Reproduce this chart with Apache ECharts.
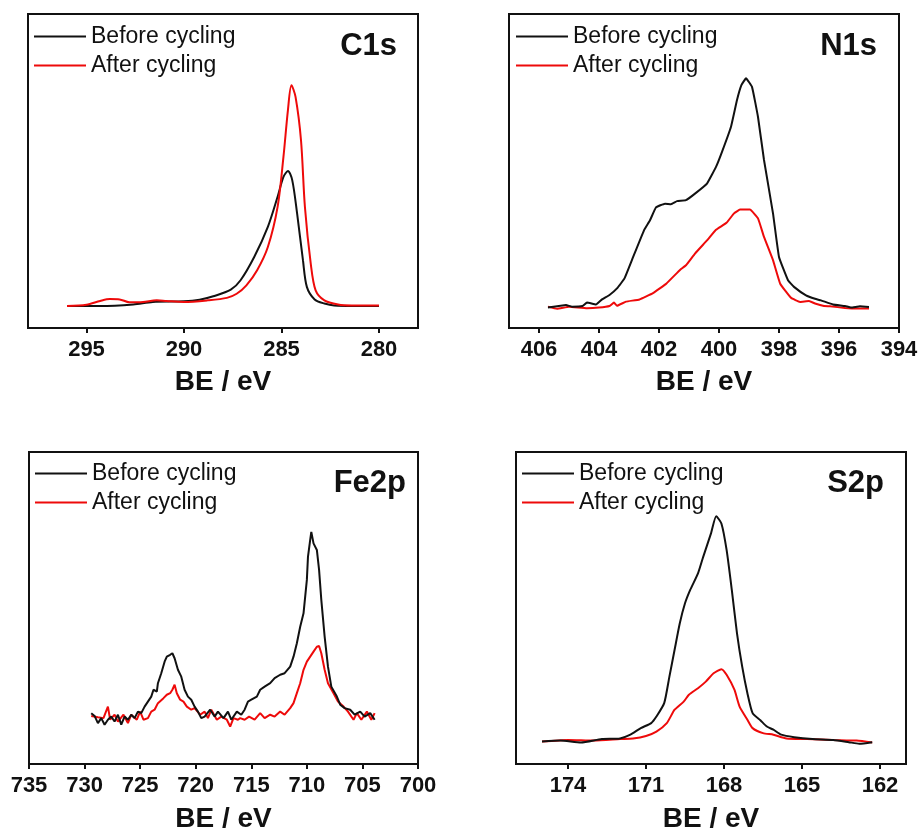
<!DOCTYPE html>
<html>
<head>
<meta charset="utf-8">
<script src="https://cdn.jsdelivr.net/npm/echarts@6/dist/echarts.min.js"></script>
<style>
  html, body { margin: 0; padding: 0; background: #fff; overflow: hidden; }
  #chart { width: 919px; height: 832px; }
</style>
</head>
<body>
<div id="chart"></div>
<script>
// XPS spectra, [BE (eV), intensity a.u.]
const c1sBefore = [[296,7.0],[294.3,7.0],[292.6,7.5],[291.6,8.3],[290.0,8.5],[289.2,9.0],[288.5,10.1],[287.6,12.2],[287.1,15.2],[286.4,22.6],[285.7,32.2],[285.2,41.8],[284.9,48.1],[284.67,50.0],[284.45,47.1],[284.2,36.5],[283.9,21.6],[283.7,13.1],[283.3,9.1],[282.8,7.8],[282.3,7.2],[280.0,7.0]];
const c1sAfter = [[296,7.0],[295.0,7.4],[294.3,8.6],[293.8,9.2],[293.3,9.1],[292.8,8.2],[292.1,8.3],[291.4,8.8],[290.9,8.6],[290.0,8.3],[288.8,8.8],[287.8,9.6],[287.3,10.9],[286.8,13.6],[286.25,18.4],[285.7,25.8],[285.2,38.6],[284.9,54.5],[284.67,69.4],[284.49,77.3],[284.28,73.6],[284.0,59.8],[283.8,38.6],[283.5,20.5],[283.25,12.0],[282.8,8.8],[282.1,7.5],[281.4,7.2],[280.0,7.2]];

const n1sBefore = [[405.7,6.5],[405.1,7.3],[404.9,6.8],[404.55,7.0],[404.4,8.1],[404.1,7.5],[403.9,9.1],[403.65,10.5],[403.4,12.6],[403.15,15.8],[402.9,21.7],[402.5,31.1],[402.3,34.3],[402.1,38.4],[401.8,39.6],[401.6,39.4],[401.4,40.4],[401.1,40.7],[400.8,42.8],[400.4,46.0],[400.1,51.3],[399.9,56.1],[399.6,64.1],[399.4,72.6],[399.25,77.4],[399.1,79.5],[398.9,76.8],[398.7,67.2],[398.5,53.5],[398.2,36.5],[398.0,22.6],[397.7,15.2],[397.5,13.1],[397.1,10.4],[396.8,9.3],[396.6,8.8],[396.2,7.5],[395.8,7.0],[395.6,6.5],[395.3,6.9],[395.0,6.7]];
const n1sAfter = [[405.7,6.8],[405.4,6.1],[405.0,6.8],[404.4,6.3],[404.0,6.5],[403.65,7.0],[403.5,8.1],[403.4,7.1],[403.1,8.4],[402.65,9.1],[402.2,11.1],[401.75,14.2],[401.3,18.5],[401.1,20.0],[400.8,23.7],[400.4,27.9],[400.1,31.3],[399.75,33.5],[399.5,36.5],[399.3,37.7],[398.97,37.7],[398.7,34.9],[398.5,29.0],[398.2,21.6],[397.96,14.1],[397.6,9.6],[397.3,8.3],[397.0,8.6],[396.8,7.8],[396.5,7.0],[396.3,6.9],[395.8,6.4],[395.4,6.2],[395.0,6.2]];

const fe2pBefore = [[729.4,16.3],[729.1,15.4],[728.8,13.1],[728.5,14.7],[728.2,12.6],[727.9,14.2],[727.6,15.2],[727.3,13.6],[727.0,15.8],[726.7,12.6],[726.4,15.2],[726.1,14.2],[725.8,15.8],[725.5,14.7],[725.2,16.8],[724.9,16.3],[724.6,18.4],[724.3,20.0],[724.0,21.6],[723.8,23.8],[723.5,23.2],[723.4,25.9],[723.1,29.1],[722.8,32.8],[722.6,34.4],[722.3,35.0],[722.1,35.5],[721.9,33.9],[721.6,30.2],[721.3,28.0],[721.0,23.8],[720.7,21.6],[720.4,20.6],[720.1,18.4],[719.8,16.8],[719.5,14.7],[719.2,15.2],[718.7,17.4],[718.3,15.2],[718.0,16.8],[717.5,14.7],[717.1,16.8],[716.8,14.2],[716.3,16.8],[715.9,15.8],[715.6,17.4],[715.3,20.0],[715.0,20.6],[714.5,21.6],[714.2,23.8],[713.8,24.8],[713.3,25.9],[712.9,27.5],[712.4,28.6],[712.0,29.1],[711.5,31.2],[711.2,34.4],[710.9,38.7],[710.6,44.0],[710.3,48.3],[710.0,59.0],[709.9,66.4],[709.7,71.8],[709.6,74.4],[709.4,70.7],[709.1,68.6],[708.9,62.2],[708.7,52.6],[708.4,40.8],[708.1,31.2],[707.8,24.8],[707.3,21.6],[707.0,19.0],[706.6,17.9],[706.1,17.4],[705.7,15.8],[705.2,16.8],[704.8,15.2],[704.3,16.3],[703.9,14.2]];
const fe2pAfter = [[729.4,15.4],[728.8,15.0],[728.3,14.7],[727.9,18.4],[727.7,14.2],[727.3,15.8],[727.0,13.6],[726.5,15.8],[726.1,13.1],[725.8,15.8],[725.3,14.2],[725.0,16.8],[724.7,14.2],[724.3,14.7],[724.0,16.8],[723.7,17.4],[723.4,19.5],[722.9,21.1],[722.6,22.2],[722.3,22.7],[722.1,23.8],[721.9,25.4],[721.7,22.7],[721.4,20.6],[721.1,20.0],[720.8,18.4],[720.4,17.4],[720.1,17.9],[719.6,15.8],[719.2,16.8],[718.9,14.7],[718.6,17.4],[718.1,14.2],[717.7,15.2],[717.2,14.2],[716.9,12.0],[716.6,14.7],[716.2,14.2],[716.0,14.7],[715.6,14.2],[715.2,15.2],[714.7,14.2],[714.2,16.3],[713.8,14.7],[713.3,15.8],[712.9,15.2],[712.4,16.8],[712.0,15.8],[711.5,17.9],[711.2,19.5],[710.9,22.7],[710.6,25.9],[710.3,30.2],[710.0,32.8],[709.7,34.4],[709.4,36.0],[709.1,37.6],[708.9,37.8],[708.7,35.5],[708.4,30.2],[708.1,25.9],[707.6,22.7],[707.2,20.0],[706.7,18.4],[706.3,16.8],[705.8,14.2],[705.5,16.3],[705.1,14.2],[704.6,16.8],[704.2,14.2],[703.9,16.3]];

const s2pBefore = [[175.0,7.2],[174.3,7.5],[173.5,6.9],[172.7,8.0],[172.0,8.2],[171.6,9.4],[171.2,11.5],[170.8,13.1],[170.6,15.2],[170.3,19.5],[170.1,28.0],[169.9,36.6],[169.7,45.1],[169.5,51.5],[169.3,55.8],[169.0,61.1],[168.8,66.4],[168.5,73.9],[168.3,79.4],[168.1,77.1],[167.9,68.6],[167.7,55.8],[167.5,41.9],[167.3,31.2],[167.1,22.7],[166.9,16.3],[166.6,14.0],[166.35,12.0],[166.1,11.0],[165.8,9.4],[165.3,8.6],[164.6,8.0],[163.8,7.7],[163.2,7.0],[162.8,6.5],[162.3,7.0]];
const s2pAfter = [[175.0,7.2],[174.0,7.7],[173.0,7.5],[172.0,8.0],[171.5,8.2],[171.0,9.0],[170.6,10.4],[170.2,13.1],[169.9,17.4],[169.55,20.0],[169.35,22.2],[169.0,24.3],[168.7,26.4],[168.4,29.1],[168.1,30.4],[167.9,28.6],[167.6,23.8],[167.4,18.4],[167.1,14.2],[166.9,11.5],[166.5,9.9],[166.1,9.4],[165.6,8.2],[164.8,8.0],[163.8,7.7],[162.9,7.5],[162.3,6.9]];

const panelNames = ['C1s', 'N1s', 'Fe2p', 'S2p'];
const xRanges = [[278, 298], [394, 407], [700, 735], [161, 176]];
const xTicks = [[295, 290, 285, 280], [406, 404, 402, 400, 398, 396, 394], [735, 730, 725, 720, 715, 710, 705, 700], [174, 171, 168, 165, 162]];
const beforeData = [c1sBefore, n1sBefore, fe2pBefore, s2pBefore];
const afterData = [c1sAfter, n1sAfter, fe2pAfter, s2pAfter];
const seriesNames = ['Before cycling', 'After cycling'];

const FONT = '"Liberation Sans", Arial, sans-serif';
const RED = '#ee0a0a';

const grids = [
  { left: 28, top: 14, width: 390, height: 314 },
  { left: 509, top: 14, width: 390, height: 314 },
  { left: 29, top: 452, width: 389, height: 312 },
  { left: 516, top: 452, width: 390, height: 312 }
];
const legendPos = [{ left: 34, top: 25 }, { left: 516, top: 25 }, { left: 35, top: 462 }, { left: 522, top: 462 }];
const labelPos = [[397, 46], [877, 46], [406, 483], [884, 483]];
const smoothing = [0.3, 0.1, false, 0.2];

const chart = echarts.init(document.getElementById('chart'), null, { renderer: 'canvas' });

const option = {
  backgroundColor: '#fff',
  animation: false,
  grid: grids.map(g => ({ ...g, show: true, outerBoundsMode: 'none', containLabel: false, borderColor: '#111', borderWidth: 2, backgroundColor: 'transparent' })),
  xAxis: grids.map((g, i) => ({
    gridIndex: i,
    type: 'value',
    inverse: true,
    min: xRanges[i][0],
    max: xRanges[i][1],
    name: 'BE / eV',
    nameLocation: 'middle',
    nameGap: i < 2 ? 40 : 41,
    nameTextStyle: { fontFamily: FONT, fontWeight: 'bold', fontSize: 28, color: '#111' },
    axisLine: { show: true, onZero: false, lineStyle: { color: '#111', width: 2 } },
    axisTick: { show: true, inside: false, length: 5, lineStyle: { color: '#111', width: 2 }, customValues: xTicks[i] },
    axisLabel: { show: true, margin: 11, fontFamily: FONT, fontWeight: 'bold', fontSize: 22, color: '#111', customValues: xTicks[i] },
    splitLine: { show: false }
  })),
  yAxis: grids.map((g, i) => ({
    gridIndex: i,
    type: 'value',
    min: 0,
    max: 100,
    show: false,
    splitLine: { show: false }
  })),
  legend: legendPos.map(p => ({
    ...p,
    orient: 'vertical',
    padding: 0,
    data: seriesNames,
    icon: 'rect',
    itemWidth: 52,
    itemHeight: 2,
    itemGap: 6,
    selectedMode: false,
    textStyle: { fontFamily: FONT, fontSize: 23, color: '#111', lineHeight: 22 }
  })),
  graphic: panelNames.map((n, i) => ({
    type: 'text',
    x: labelPos[i][0],
    y: labelPos[i][1],
    style: { text: n, fill: '#111', font: 'bold 31px ' + FONT, textAlign: 'right', textVerticalAlign: 'middle' }
  })),
  series: []
};

for (let i = 0; i < 4; i++) {
  option.series.push({
    name: seriesNames[0], type: 'line', xAxisIndex: i, yAxisIndex: i,
    data: beforeData[i], showSymbol: false, symbol: 'none', smooth: smoothing[i],
    lineStyle: { color: '#111', width: 2 }, itemStyle: { color: '#111' }, z: 3
  });
  option.series.push({
    name: seriesNames[1], type: 'line', xAxisIndex: i, yAxisIndex: i,
    data: afterData[i], showSymbol: false, symbol: 'none', smooth: smoothing[i],
    lineStyle: { color: RED, width: 2 }, itemStyle: { color: RED }, z: i === 0 ? 4 : 2
  });
}

chart.setOption(option);
</script>
</body>
</html>
